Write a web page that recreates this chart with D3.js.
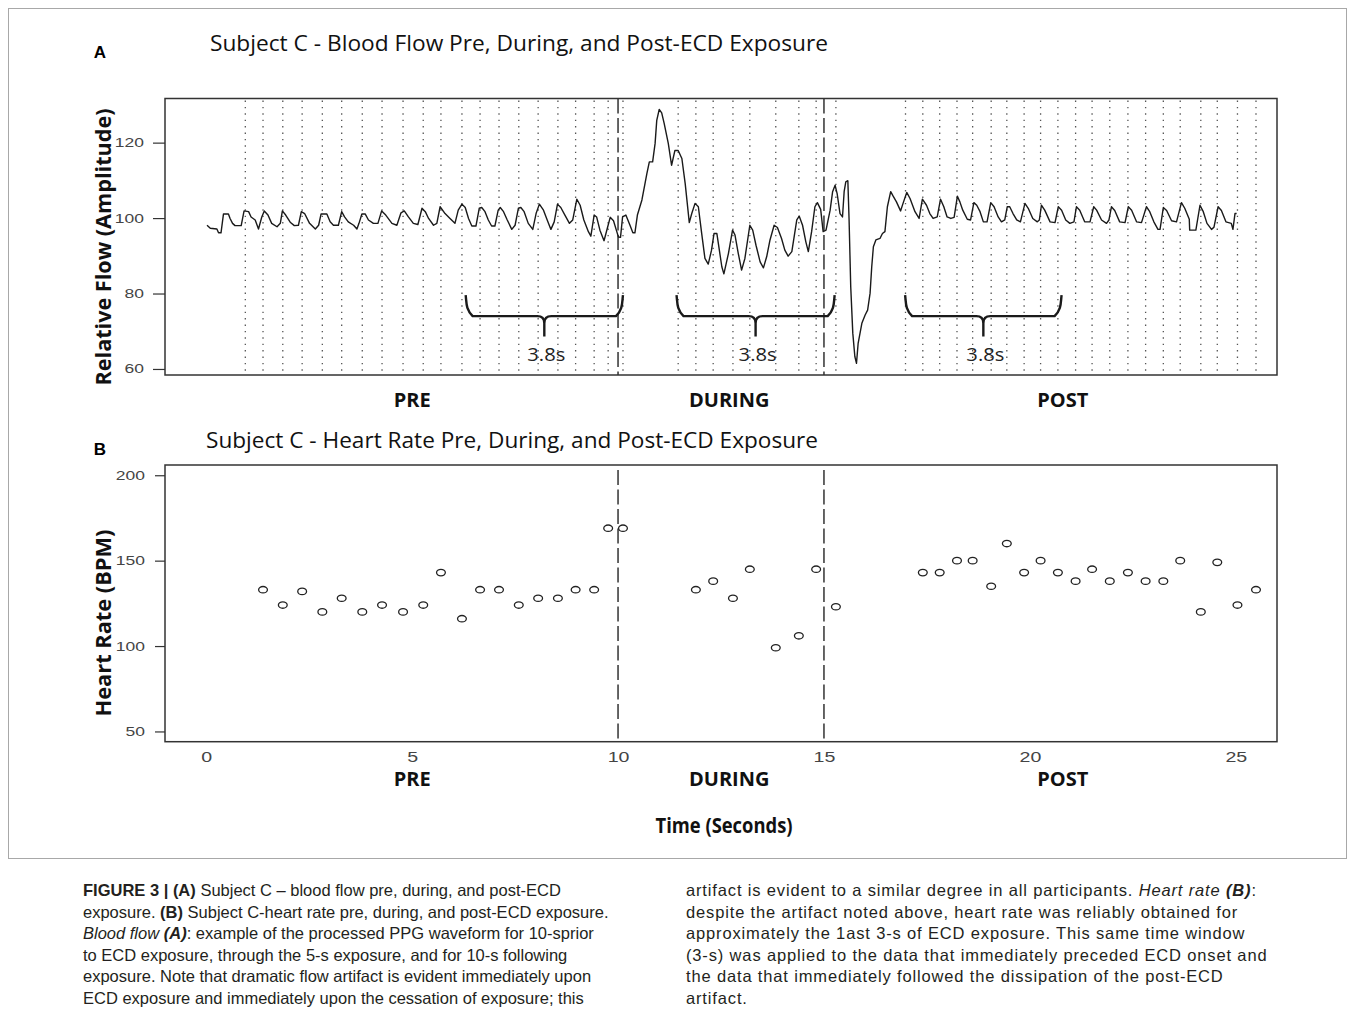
<!DOCTYPE html>
<html>
<head>
<meta charset="utf-8">
<script src="https://cdn.jsdelivr.net/npm/d3@7"></script>
<style>
body { margin: 0; background: #fff; }
</style>
</head>
<body>
<svg id="fig" width="1355" height="1031"></svg>
<script>
// PPG trace (panel A), vertices: time in s, relative flow
var flowTime = [0.02,0.10,0.26,0.30,0.36,0.42,0.54,0.58,0.64,0.70,0.85,0.92,1.03,1.09,1.19,1.27,1.35,1.41,1.50,1.59,1.72,1.80,1.85,1.93,2.04,2.14,2.24,2.31,2.39,2.51,2.65,2.73,2.79,2.93,3.01,3.09,3.21,3.29,3.36,3.45,3.58,3.66,3.71,3.78,3.86,3.94,4.06,4.17,4.26,4.36,4.51,4.63,4.73,4.81,4.91,5.03,5.14,5.24,5.32,5.40,5.52,5.60,5.68,5.80,5.92,6.04,
  6.12,6.21,6.29,6.37,6.45,6.55,6.63,6.69,6.77,6.85,6.93,7.01,7.09,7.14,7.22,7.31,7.42,7.50,7.58,7.64,7.72,7.82,7.93,8.01,8.09,8.19,8.28,8.37,8.45,8.53,8.61,8.71,8.82,8.90,9.00,9.08,9.17,9.28,9.34,9.42,9.48,9.56,9.66,9.74,9.81,9.89,9.97,10.01,10.06,10.11,10.19,10.29,10.36,10.41,10.47,10.58,10.70,10.76,10.84,10.90,10.94,11.00,11.06,11.12,11.22,11.30,11.38,11.46,11.55,11.63,11.73,11.79,11.87,11.95,12.03,
  12.11,12.19,12.27,12.33,12.40,12.46,12.52,12.57,12.68,12.78,12.84,12.92,13.00,13.08,13.20,13.27,13.35,13.45,13.53,13.61,13.69,13.79,13.87,13.97,14.05,14.13,14.22,14.34,14.40,14.48,14.56,14.62,14.70,14.78,14.84,14.92,14.98,15.05,15.15,15.21,15.27,15.32,15.39,15.45,15.49,15.53,15.58,15.61,15.65,15.70,15.75,15.79,15.83,15.92,16.00,16.06,16.12,16.16,16.20,16.26,16.36,16.42,16.48,16.54,16.62,16.68,16.76,16.86,16.92,17.01,17.09,17.21,17.31,17.39,17.49,17.57,17.65,17.75,17.83,17.91,17.99,18.08,
  18.16,18.24,18.30,18.37,18.48,18.56,18.64,18.71,18.79,18.87,18.96,19.05,19.13,19.23,19.31,19.39,19.45,19.51,19.59,19.68,19.77,19.88,19.96,20.07,20.18,20.23,20.28,20.36,20.49,20.61,20.69,20.77,20.87,20.97,21.07,21.13,21.21,21.33,21.46,21.55,21.62,21.74,21.86,21.92,21.98,22.06,22.18,22.31,22.39,22.47,22.59,22.71,22.83,22.91,23.01,23.11,23.16,23.24,23.32,23.44,23.56,23.68,23.76,23.87,23.88,24.03,24.13,24.21,24.30,24.41,24.47,24.57,24.65,24.76,24.89,24.93,24.98,25.02];
var flowValue = [98.1,97.3,97.1,96.1,96.1,101.1,101.1,99.9,98.6,98.0,98.0,101.9,101.7,100.3,99.5,97.1,100.3,101.9,100.8,98.6,97.7,98.6,101.9,100.8,98.9,98.0,98.1,101.7,101.2,98.6,97.1,98.1,101.1,101.1,99.0,98.1,98.1,101.7,100.3,99.0,98.1,97.1,98.6,101.1,101.1,99.5,98.6,98.6,101.9,100.8,98.6,98.1,101.4,101.9,100.3,98.6,98.3,102.6,101.7,99.9,98.1,98.6,103.0,101.2,99.9,98.6,
  102.1,103.7,102.8,99.9,97.9,97.9,102.6,102.8,101.7,99.5,97.9,97.9,102.1,102.8,101.7,99.5,97.0,98.1,102.6,102.8,101.7,98.6,97.0,101.2,103.7,102.1,99.5,97.0,99.0,103.7,102.8,100.8,98.6,99.5,105.0,103.4,99.5,96.4,95.2,100.8,100.3,96.8,94.0,97.3,100.2,99.3,96.4,95.0,94.9,100.3,100.8,98.1,96.1,96.1,100.8,104.8,111.8,114.9,114.9,119.8,125.9,128.8,127.9,125.1,119.8,114.0,117.9,117.9,115.8,109.2,98.8,101.2,103.9,103.0,96.0,
  89.3,87.8,91.5,95.9,95.9,91.5,87.1,85.2,90.6,96.8,95.5,90.6,86.2,89.3,98.1,96.8,92.8,88.4,86.8,89.8,94.2,98.1,97.5,94.6,91.5,89.9,91.1,99.5,100.5,98.1,93.7,91.1,96.4,103.0,104.1,102.3,96.4,96.8,102.1,107.0,108.7,106.5,101.2,100.3,107.0,109.6,109.9,99.5,81.8,69.5,63.3,61.5,66.8,72.1,74.3,75.6,80.1,87.1,92.4,94.2,94.6,95.9,96.4,103.0,107.0,105.8,104.3,101.9,103.9,106.8,105.2,101.7,99.9,105.0,103.4,101.2,99.9,100.3,105.0,103.0,100.3,99.9,
  100.2,105.8,104.3,102.1,99.7,99.5,104.1,103.4,101.7,99.0,99.0,104.1,103.0,100.3,99.0,99.5,103.0,103.0,101.2,99.5,99.0,103.9,102.6,99.9,99.0,99.5,103.4,102.1,99.0,98.8,103.0,102.1,99.5,98.6,99.0,103.0,102.1,99.0,99.0,103.0,102.1,99.5,98.6,99.5,103.0,102.0,99.0,98.8,103.0,102.1,99.0,98.8,103.0,101.7,99.0,97.0,97.0,102.8,102.0,99.3,99.0,104.1,102.6,99.7,96.8,96.8,103.4,101.7,98.6,97.0,97.6,103.0,102.0,99.0,98.6,97.0,101.2,101.2];

// heart rate (panel B): beat time in s, BPM
var hrTime = [1.38,1.86,2.33,2.82,3.29,3.79,4.27,4.78,5.27,5.70,6.21,6.65,7.11,7.59,8.06,8.54,8.97,9.42,9.76,10.12,
  11.89,12.31,12.79,13.20,13.83,14.39,14.81,15.29,
  17.40,17.81,18.23,18.61,19.06,19.44,19.86,20.26,20.68,21.11,21.51,21.94,22.38,22.81,23.24,23.65,24.15,24.55,25.04,25.49];
var hrValue = [133,124,132,120,128,120,124,120,124,143,116,133,133,124,128,128,133,133,169,169,
  133,138,128,145,99,106,145,123,
  143,143,150,150,135,160,143,150,143,138,145,138,143,138,138,150,120,149,124,133];
// first detected beat of each window (no rate yet)
var firstBeats = [0.95, 11.46, 16.98];

var ecdMarks = [10, 15];
var windowStart = [6.30, 11.42, 16.97];
var windowEnd = [10.12, 15.26, 20.77];
var windowLabel = ["3.8s", "3.8s", "3.8s"];
var phases = ["PRE", "DURING", "POST"];
var phaseAt = [5.0, 12.7, 20.8];

var timeTicks = [0, 5, 10, 15, 20, 25];
var flowTicks = [60, 80, 100, 120];
var hrTicks = [50, 100, 150, 200];

var captionLeft = [
  [["FIGURE 3 | (A)", "b"], [" Subject C \u2013 blood flow pre, during, and post-ECD", ""]],
  [["exposure. ", ""], ["(B)", "b"], [" Subject C-heart rate pre, during, and post-ECD exposure.", ""]],
  [["Blood flow ", "i"], ["(A)", "bi"], [": example of the processed PPG waveform for 10-sprior", ""]],
  [["to ECD exposure, through the 5-s exposure, and for 10-s following", ""]],
  [["exposure. Note that dramatic flow artifact is evident immediately upon", ""]],
  [["ECD exposure and immediately upon the cessation of exposure; this", ""]]
];
var captionRight = [
  [["artifact is evident to a similar degree in all participants. ", ""], ["Heart rate ", "i"], ["(B)", "bi"], [":", ""]],
  [["despite the artifact noted above, heart rate was reliably obtained for", ""]],
  [["approximately the 1ast 3-s of ECD exposure. This same time window", ""]],
  [["(3-s) was applied to the data that immediately preceded ECD onset and", ""]],
  [["the data that immediately followed the dissipation of the post-ECD", ""]],
  [["artifact.", ""]]
];

var svg = d3.select("#fig");
var sans = "'Open Sans', 'DejaVu Sans', sans-serif";
var rfont = "'Liberation Sans', Arial, sans-serif";

svg.append("rect").attr("width", 1355).attr("height", 1031).attr("fill", "#fff");
svg.append("rect")
  .attr("x", 8.5).attr("y", 8.5).attr("width", 1338).attr("height", 850)
  .attr("fill", "none").attr("stroke", "#a8a8a8").attr("stroke-width", 1);

var x = d3.scaleLinear().domain([-1, 26]).range([165, 1277]);
var yA = d3.scaleLinear().domain([58.4, 131.7]).range([375, 98.5]);
var yB = d3.scaleLinear().domain([44, 206]).range([741.7, 465]);

function styleAxis(g, stretch) {
  g.select(".domain").remove();
  g.selectAll(".tick line").attr("stroke", "#333").attr("stroke-width", 1.2);
  g.selectAll(".tick text")
    .attr("font-family", rfont).attr("font-size", 12.5).attr("fill", "#444")
    .each(function() {
      var t = d3.select(this);
      t.attr("x", +t.attr("x") / stretch).attr("transform", "scale(" + stretch + ",1)");
    });
}

// ---------- panel A ----------
var gA = svg.append("g");

gA.selectAll(".beat")
  .data(firstBeats.concat(hrTime))
  .enter().append("line")
  .attr("class", "beat")
  .attr("x1", function(d) { return x(d); }).attr("x2", function(d) { return x(d); })
  .attr("y1", yA.range()[1] + 2).attr("y2", yA.range()[0])
  .attr("stroke", "#555").attr("stroke-width", 1.3)
  .attr("stroke-dasharray", "1.4,5");

gA.selectAll(".ecd")
  .data(ecdMarks)
  .enter().append("line")
  .attr("x1", function(d) { return x(d); }).attr("x2", function(d) { return x(d); })
  .attr("y1", yA.range()[1]).attr("y2", yA.range()[0])
  .attr("stroke", "#333").attr("stroke-width", 1.5)
  .attr("stroke-dasharray", "15,4.5");

var flowLine = d3.line()
  .x(function(d, i) { return x(flowTime[i]); })
  .y(function(d) { return yA(d); });

gA.append("path")
  .attr("d", flowLine(flowValue))
  .attr("fill", "none").attr("stroke", "#1a1a1a").attr("stroke-width", 1.4)
  .attr("stroke-linejoin", "round");

gA.append("rect")
  .attr("x", x.range()[0]).attr("y", yA.range()[1])
  .attr("width", x.range()[1] - x.range()[0]).attr("height", yA.range()[0] - yA.range()[1])
  .attr("fill", "none").attr("stroke", "#333").attr("stroke-width", 1.5);

var axA = gA.append("g").attr("transform", "translate(" + x.range()[0] + ",0)")
  .call(d3.axisLeft(yA).tickValues(flowTicks).tickSize(12).tickPadding(9));
styleAxis(axA, 1.4);

// 3.8 s braces
function bracePath(x0, x1, yArm, yBar, yTip) {
  var xc = (x0 + x1) / 2, r = 7;
  return "M" + x0 + "," + yArm +
    " C" + (x0 + 1) + "," + (yArm + 8) + " " + x0 + "," + (yBar - r) + " " + (x0 + r) + "," + yBar +
    " L" + (xc - r) + "," + yBar +
    " Q" + xc + "," + yBar + " " + xc + "," + (yBar + r) +
    " L" + xc + "," + yTip +
    " M" + xc + "," + (yBar + r) +
    " Q" + xc + "," + yBar + " " + (xc + r) + "," + yBar +
    " L" + (x1 - r) + "," + yBar +
    " C" + x1 + "," + (yBar - r) + " " + (x1 - 1) + "," + (yArm + 8) + " " + x1 + "," + yArm;
}
windowStart.forEach(function(s, i) {
  var e = windowEnd[i];
  gA.append("path")
    .attr("d", bracePath(x(s), x(e), yA(79.6), yA(74.0), yA(68.6)))
    .attr("fill", "none").attr("stroke", "#1a1a1a").attr("stroke-width", 2.4);
  gA.append("text")
    .attr("x", x((s + e) / 2) + 2).attr("y", yA(62.0))
    .attr("text-anchor", "middle")
    .attr("font-family", sans).attr("font-size", 19).attr("fill", "#222")
    .attr("textLength", 38).attr("lengthAdjust", "spacingAndGlyphs")
    .text(windowLabel[i]);
});

phases.forEach(function(p, i) {
  gA.append("text")
    .attr("x", x(phaseAt[i])).attr("y", 407)
    .attr("text-anchor", "middle")
    .attr("font-family", sans).attr("font-weight", "bold").attr("font-size", 20).attr("fill", "#111")
    .text(p);
});

svg.append("text").attr("x", 100).attr("y", 58).attr("text-anchor", "middle")
  .attr("font-family", rfont).attr("font-weight", "bold").attr("font-size", 17).text("A");
svg.append("text").attr("x", 210).attr("y", 51)
  .attr("font-family", sans).attr("font-size", 21).attr("fill", "#111")
  .attr("textLength", 618).attr("lengthAdjust", "spacingAndGlyphs")
  .text("Subject C - Blood Flow Pre, During, and Post-ECD Exposure");
svg.append("text")
  .attr("transform", "translate(111,247) rotate(-90)").attr("text-anchor", "middle")
  .attr("font-family", sans).attr("font-weight", "bold").attr("font-size", 22).attr("fill", "#111")
  .attr("textLength", 277).attr("lengthAdjust", "spacingAndGlyphs")
  .text("Relative Flow (Amplitude)");

// ---------- panel B ----------
var gB = svg.append("g");

gB.selectAll(".ecd")
  .data(ecdMarks)
  .enter().append("line")
  .attr("x1", function(d) { return x(d); }).attr("x2", function(d) { return x(d); })
  .attr("y1", yB.range()[1] + 5).attr("y2", yB.range()[0])
  .attr("stroke", "#333").attr("stroke-width", 1.5)
  .attr("stroke-dasharray", "15,4.5");

gB.selectAll(".hr")
  .data(hrValue)
  .enter().append("ellipse")
  .attr("cx", function(d, i) { return x(hrTime[i]); })
  .attr("cy", function(d) { return yB(d); })
  .attr("rx", 4.4).attr("ry", 3.2)
  .attr("fill", "none").attr("stroke", "#222").attr("stroke-width", 1.3);

gB.append("rect")
  .attr("x", x.range()[0]).attr("y", yB.range()[1])
  .attr("width", x.range()[1] - x.range()[0]).attr("height", yB.range()[0] - yB.range()[1])
  .attr("fill", "none").attr("stroke", "#333").attr("stroke-width", 1.5);

var axB = gB.append("g").attr("transform", "translate(" + x.range()[0] + ",0)")
  .call(d3.axisLeft(yB).tickValues(hrTicks).tickSize(10).tickPadding(10));
styleAxis(axB, 1.4);

var axT = gB.append("g").attr("transform", "translate(0," + yB.range()[0] + ")")
  .call(d3.axisBottom(x).tickValues(timeTicks).tickSize(0).tickPadding(10));
styleAxis(axT, 1.4);
axT.selectAll(".tick text").attr("font-size", 14);

phases.forEach(function(p, i) {
  gB.append("text")
    .attr("x", x(phaseAt[i])).attr("y", 786)
    .attr("text-anchor", "middle")
    .attr("font-family", sans).attr("font-weight", "bold").attr("font-size", 20).attr("fill", "#111")
    .text(p);
});

svg.append("text").attr("x", 100).attr("y", 455).attr("text-anchor", "middle")
  .attr("font-family", rfont).attr("font-weight", "bold").attr("font-size", 17).text("B");
svg.append("text").attr("x", 206).attr("y", 448)
  .attr("font-family", sans).attr("font-size", 21).attr("fill", "#111")
  .attr("textLength", 612).attr("lengthAdjust", "spacingAndGlyphs")
  .text("Subject C - Heart Rate Pre, During, and Post-ECD Exposure");
svg.append("text")
  .attr("transform", "translate(111,623) rotate(-90)").attr("text-anchor", "middle")
  .attr("font-family", sans).attr("font-weight", "bold").attr("font-size", 22).attr("fill", "#111")
  .attr("textLength", 187).attr("lengthAdjust", "spacingAndGlyphs")
  .text("Heart Rate (BPM)");
svg.append("text")
  .attr("x", 724).attr("y", 833).attr("text-anchor", "middle")
  .attr("font-family", sans).attr("font-weight", "bold").attr("font-size", 21).attr("fill", "#111")
  .attr("textLength", 137).attr("lengthAdjust", "spacingAndGlyphs")
  .text("Time (Seconds)");

// ---------- caption ----------
function caption(lines, x0, spacing) {
  lines.forEach(function(segs, i) {
    var t = svg.append("text")
      .attr("x", x0).attr("y", 896 + i * 21.6)
      .attr("font-family", rfont).attr("font-size", 16.5).attr("fill", "#231f20")
      .attr("letter-spacing", spacing);
    segs.forEach(function(s) {
      t.append("tspan")
        .attr("font-weight", s[1].indexOf("b") >= 0 ? "bold" : null)
        .attr("font-style", s[1].indexOf("i") >= 0 ? "italic" : null)
        .text(s[0]);
    });
  });
}
caption(captionLeft, 83, 0);
caption(captionRight, 686, 0.85);
</script>
</body>
</html>
